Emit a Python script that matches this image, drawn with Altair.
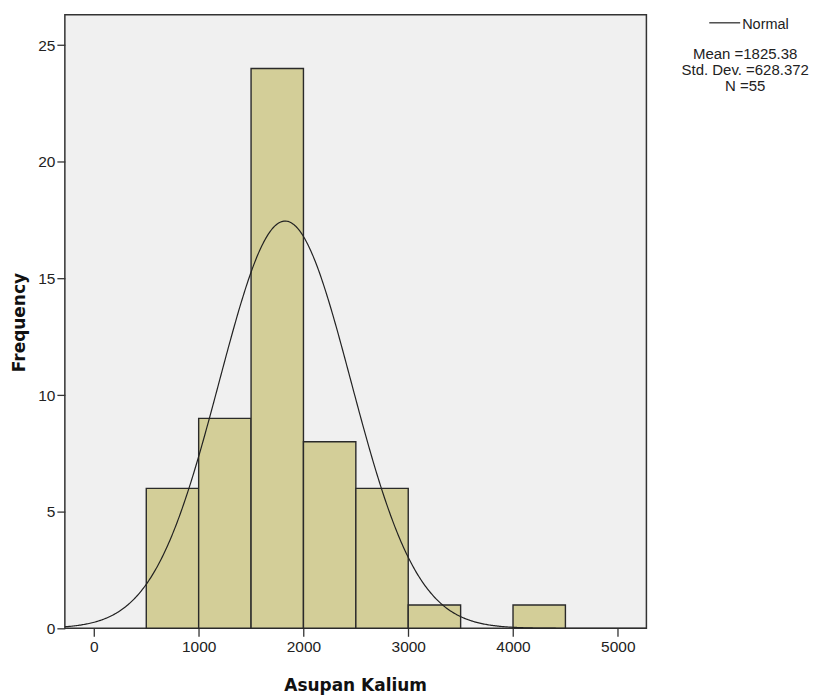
import altair as alt
import pandas as pd

# Histogram bins (Asupan Kalium) and their frequencies
bin_start = [500, 1000, 1500, 2000, 2500, 3000, 4000]
bin_end = [1000, 1500, 2000, 2500, 3000, 3500, 4500]
counts = [6, 9, 24, 8, 6, 1, 1]

x_ticks = [0, 1000, 2000, 3000, 4000, 5000]
y_ticks = [0, 5, 10, 15, 20, 25]

# Normal curve statistics (from the legend)
mean = 1825.38
sd = 628.372
n = 55
bin_width = 500

legend_name = "Normal"
legend_lines = ["Mean =1825.38", "Std. Dev. =628.372", "N =55"]

bars_df = pd.DataFrame({"start": bin_start, "end": bin_end, "count": counts})

x_min, x_max = -277, 5273
xscale = alt.Scale(domain=[x_min, x_max], nice=False, zero=False, padding=0)
yscale = alt.Scale(domain=[0, 26.3], nice=False, zero=True, padding=0)

label_font = "Liberation Sans"
title_font = "DejaVu Sans"

x_axis = alt.Axis(
    values=x_ticks, format="d", tickSize=8, tickWidth=1.3, tickColor="#333",
    labelPadding=3, labelFont=label_font, labelFontSize=15.5, labelColor="#222",
    domain=False, grid=False,
    title="Asupan Kalium", titleFont=title_font, titleFontSize=17,
    titleFontWeight="bold", titleColor="#111",
    titleX=291, titleY=57, titleBaseline="middle", titleAlign="center",
)
y_axis = alt.Axis(
    values=y_ticks, tickSize=8, tickWidth=1.3, tickColor="#333",
    labelPadding=2, labelFont=label_font, labelFontSize=15.5, labelColor="#222",
    domain=False, grid=False,
    title="Frequency", titleFont=title_font, titleFontSize=17,
    titleFontWeight="bold", titleColor="#111",
    titleX=-45, titleY=308, titleAngle=270, titleBaseline="middle", titleAlign="center",
)

bars = alt.Chart(bars_df).mark_bar(
    fill="#D3CE98", stroke="#2a2a2a", strokeWidth=1.4
).encode(
    x=alt.X("start:Q", scale=xscale, axis=x_axis),
    x2="end:Q",
    y=alt.Y("count:Q", scale=yscale, axis=y_axis),
    y2=alt.datum(0),
)

curve = alt.Chart(alt.sequence(x_min, x_max + 1, 10, as_="v")).transform_calculate(
    f=f"{n}*{bin_width}*densityNormal(datum.v, {mean}, {sd})"
).mark_line(color="#222", strokeWidth=1.2, clip=True).encode(
    x=alt.X("v:Q", scale=xscale),
    y=alt.Y("f:Q", scale=yscale),
)

leg_rule = alt.Chart(pd.DataFrame({"k": [0]})).mark_rule(
    color="#222", strokeWidth=1.2
).encode(x=alt.value(646), x2=alt.value(677), y=alt.value(8))

leg_name = alt.Chart(pd.DataFrame({"t": [legend_name]})).mark_text(
    font=label_font, fontSize=14.5, align="left", baseline="alphabetic", color="#222"
).encode(text="t:N", x=alt.value(679), y=alt.value(14))

leg_layers = []
for txt, yb in zip(legend_lines, [44, 60, 76]):
    leg_layers.append(
        alt.Chart(pd.DataFrame({"t": [txt]})).mark_text(
            font=label_font, fontSize=15, align="center", baseline="alphabetic", color="#222"
        ).encode(text="t:N", x=alt.value(682), y=alt.value(yb))
    )

chart = alt.layer(bars, curve, leg_rule, leg_name, *leg_layers).properties(
    width=583, height=615,
    autosize=alt.AutoSizeParams(type="none"),
    padding={"left": 57, "top": 6, "right": 165, "bottom": 68},
    background="white",
).configure_view(fill="#F0F0F0", stroke="#333", strokeWidth=1.5)

chart.save("out.html", embed_options={"renderer": "svg", "actions": False})
